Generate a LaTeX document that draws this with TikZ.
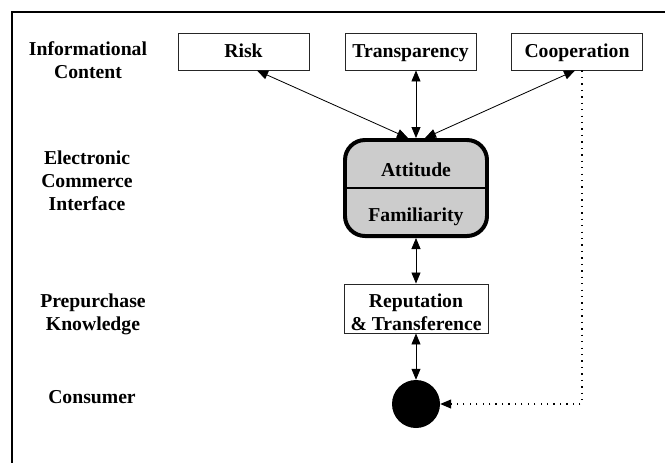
\documentclass[tikz,border=0pt]{standalone}
\usepackage{fontspec}
\setmainfont{Liberation Serif}
\usetikzlibrary{arrows.meta}
\tikzset{
    txt/.style={font=\fontsize{16.8}{19.8}\selectfont\bfseries, align=center, inner sep=0pt},
    infobox/.style={draw=black!85, line width=0.8pt, minimum width=3.93cm, minimum height=1.11cm, inner sep=0pt, txt, text height=11.5pt, text depth=1.5pt},
    ecbox/.style={draw, line width=3.4pt, fill=black!20, rounded corners=0.6cm, minimum width=4.26cm, minimum height=2.88cm, inner sep=0pt},
    repbox/.style={draw=black!85, line width=0.8pt, minimum width=4.32cm, minimum height=1.47cm, inner sep=0pt},
    twoway/.style={line width=0.7pt, {Triangle[length=0.33cm,width=0.27cm]}-{Triangle[length=0.33cm,width=0.27cm]}},
    dotline/.style={line width=1.1pt, dash pattern=on 1.1pt off 4.4pt, -{Triangle[length=0.33cm,width=0.27cm]}}
}
\begin{document}
\begin{tikzpicture}[x=0.03cm, y=-0.03cm]
        \useasboundingbox (0,0) rectangle (665,463);
        \draw [line width=1.5pt] (665,12) -- (12,12) -- (12,463);
        \node [txt] (infolbl) at (88,60.5) {Informational\\Content};
        \node [txt] (eclbl) at (87,181) {Electronic\\Commerce\\Interface};
        \node [txt] (prelbl) at (93,314) {Prepurchase\\Knowledge};
        \node [txt, anchor=base] (conslbl) at (92,403) {Consumer};
        \node [infobox] (risk) at (243.5,51.5) {Risk};
        \node [infobox] (transp) at (410.5,51.5) {Transparency};
        \node [infobox] (coop) at (577,51.5) {Cooperation};
        \node [ecbox] (ec) at (416,188) {};
        \draw [line width=2pt] (ec.west) -- (ec.east);
        \node [txt, anchor=base] (att) at (416,176) {Attitude};
        \node [txt, anchor=base] (fam) at (416,221) {Familiarity};
        \node [repbox] (rep) at (416,308.5) {};
        \node [txt] (reptxt) at (416,312) {Reputation\\\& Transference};
        \node [circle, fill=black, minimum size=1.44cm, inner sep=0pt] (cons) at (416,404) {};
        \draw [twoway] ([xshift=-0.24cm]ec.north) -- ([xshift=0.405cm]risk.south);
        \draw [twoway] (ec.north) -- (ec.north |- transp.south);
        \draw [twoway] ([xshift=0.27cm]ec.north) -- ([xshift=-0.06cm]coop.south);
        \draw [twoway] (ec.south) -- (rep.north);
        \draw [twoway] (rep.south) -- (cons.north);
        \draw [dotline] ([xshift=0.15cm]coop.south) |- (cons.east);
    \end{tikzpicture}
\end{document}
